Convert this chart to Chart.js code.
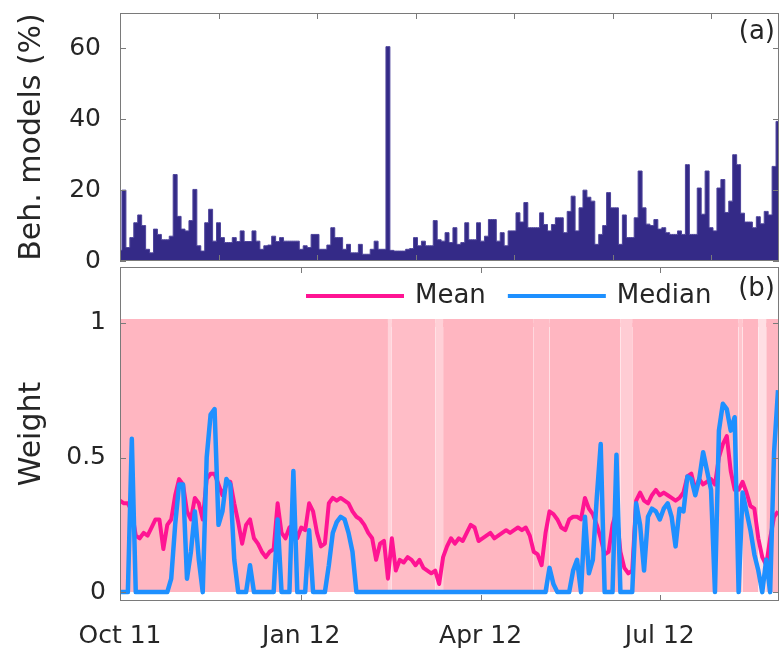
<!DOCTYPE html>
<html>
<head>
<meta charset="utf-8">
<script src="https://cdn.jsdelivr.net/npm/chart.js@4.4.1/dist/chart.umd.min.js"></script>
<style>
  html, body { margin: 0; padding: 0; background: #fff; }
  #wrap { position: relative; width: 781px; height: 651px; overflow: hidden; }
  #wrap canvas { position: absolute; left: 0; }
  #modelsChart { top: 0; }
  #weightChart { top: 262px; }
</style>
</head>
<body>
<div id="wrap">
  <canvas id="modelsChart" width="781" height="280"></canvas>
  <canvas id="weightChart" width="781" height="389"></canvas>
</div>
<script>
// day 0 = 1 Oct 2011, one sample every 2 days
const days = Array.from({ length: 168 }, (_, i) => i * 2);

const monthTicks = [0, 92, 183, 274];
const monthLabels = ['Oct 11', 'Jan 12', 'Apr 12', 'Jul 12'];
const dayTicks = [0, 50, 100, 150, 200, 250, 300];
const modelTicks = [0, 20, 40, 60];
const weightTicks = [0, 0.5, 1];

// (a) share of behavioural models, %
const behModels = [
  3, 20, 3.8, 6.6, 10.8, 13, 10, 3.3, 2.3, 9,
  7.5, 6, 6, 7, 24.4, 12.6, 9, 8.5, 11.4, 20.2,
  4.3, 2.8, 10.8, 14.6, 5.6, 10.8, 6.6, 5.2, 5.2, 6.6,
  5.5, 8.5, 5.5, 5.5, 8.5, 5.6, 3.3, 4.3, 4.5, 7,
  5.5, 6.6, 5.6, 5.6, 5.6, 5.6, 3.3, 4.3, 3.8, 7.5,
  7.5, 3.3, 3.3, 4.5, 9.4, 6.6,
  6.6, 3.3, 4.7, 2.3, 2.3, 4.7, 1.9, 1.9, 3.3, 5.6,
  3.3, 3.3, 60.5, 3, 2.8, 2.8, 2.8, 3.3, 3.5, 6.6,
  4.3, 5.6, 4.3, 4.3, 11.4, 6, 5.6, 8, 5.2, 9.4,
  4.7, 5.2, 10.8, 6, 6, 10.8, 5.6, 7, 11.7, 11.7,
  5.6, 8, 4.3, 8.5, 8.5, 13.6, 11, 16.5, 9.4, 9.4,
  9.4, 13.6, 10.3, 8.5, 10.3, 12.2,
  12.2, 8, 14, 18.3, 8.5, 15, 20, 18, 16.9, 4.7,
  7.5, 10, 19.3, 15, 15, 4.7, 13, 6.6, 6.6, 12.2,
  25.4, 15, 10.4, 10, 11.7, 9, 9.4, 8, 7.5, 7.5,
  8.5, 7.5, 27.2, 7.5, 7.5, 20.6, 13.2, 25.4, 9.4, 8.5,
  20.6, 23, 13.7, 16.9, 30, 27.2, 13.5, 11, 11, 9.4,
  12.5, 10.5, 14, 13, 26.7, 39.4
];

// (b) mean and median model weight
const meanWeight = [
  .34, .33, .33, .30, .21, .20, .22, .21, .24, .27,
  .27, .16, .25, .27, .36, .42, .40, .30, .27, .35,
  .33, .27, .42, .44, .44, .40, .36, .40, .41, .33,
  .26, .18, .25, .27, .20, .18, .15, .13, .15, .16,
  .33, .22, .20, .24, .25, .20, .24, .23, .33, .30,
  .22, .17, .18, .33, .35, .34,
  .35, .34, .33, .30, .28, .27, .25, .22, .20, .12,
  .18, .19, .05, .20, .08, .12, .11, .13, .12, .10,
  .12, .09, .08, .07, .08, .03, .13, .17, .20, .18,
  .20, .19, .22, .25, .24, .19, .20, .21, .22, .20,
  .21, .22, .23, .22, .23, .24, .23, .24, .21, .15,
  .14, .10, .22, .30, .29, .27,
  .24, .23, .27, .28, .28, .27, .35, .31, .29, .25,
  .20, .14, .15, .25, .30, .15, .09, .07, .08, .34,
  .37, .34, .33, .36, .38, .36, .37, .36, .35, .34,
  .35, .37, .43, .44, .38, .42, .40, .41, .42, .40,
  .50, .55, .58, .45, .38, .38, .41, .37, .32, .31,
  .20, .13, .10, .20, .28, .30
];

const medianWeight = [
  0, 0, 0, .57, 0, 0, 0, 0, 0, 0,
  0, 0, 0, .05, .25, .40, .40, .05, .15, .30,
  .12, 0, .50, .66, .68, .25, .30, .42, .40, .12,
  0, 0, 0, .10, 0, 0, 0, 0, 0, 0,
  .27, 0, 0, 0, .45, 0, 0, 0, .23, 0,
  0, 0, 0, .10, .22, .26,
  .28, .27, .22, .15, 0, 0, 0, 0, 0, 0,
  0, 0, 0, 0, 0, 0, 0, 0, 0, 0,
  0, 0, 0, 0, 0, 0, 0, 0, 0, 0,
  0, 0, 0, 0, 0, 0, 0, 0, 0, 0,
  0, 0, 0, 0, 0, 0, 0, 0, 0, 0,
  0, 0, 0, .09, .03, 0,
  0, 0, 0, .08, .12, 0, .28, .07, .12, .35,
  .55, 0, 0, 0, .51, 0, 0, 0, 0, .33,
  .25, .08, .28, .31, .30, .27, .31, .33, .28, .17,
  .31, .30, .43, .42, .36, .42, .52, .45, .38, 0,
  .60, .70, .68, .60, .65, 0, .37, .30, .23, .14,
  .08, 0, .12, 0, .52, .75
];

// individual weights fill [0, 1]; thinner sampling on these day ranges
const weightMax = 1;
const paleFrom = [136, 138, 160, 210, 254, 314, 324];
const paleTo = [138, 160, 164, 218, 260, 316, 328];
const paleDensity = [0.6, 0.9, 0.65, 0.92, 0.7, 0.8, 0.45];

const ink = '#262626';
Chart.defaults.font.family = '"DejaVu Sans", sans-serif';
Chart.defaults.color = ink;

function bandColour(day) {
  let k = 1;
  paleFrom.forEach((f, i) => { if (day >= f && day < paleTo[i]) k = paleDensity[i]; });
  const g = Math.round(182 + 73 * (1 - k));
  const b = Math.round(193 + 62 * (1 - k));
  return `rgb(255,${g},${b})`;
}

// box around the axes with inward ticks, matlab style
const framePlugin = {
  id: 'frame',
  afterDatasetsDraw(chart) {
    const { ctx, chartArea: a, scales } = chart;
    const len = 6;
    ctx.save();
    ctx.strokeStyle = '#7a7a7a';
    ctx.lineWidth = 1;
    ctx.strokeRect(a.left + 0.5, a.top + 0.5, a.right - a.left - 1, a.bottom - a.top - 1);
    ctx.beginPath();
    scales.x.ticks.forEach(t => {
      const px = Math.round(scales.x.getPixelForValue(t.value)) + 0.5;
      ctx.moveTo(px, a.top); ctx.lineTo(px, a.top + len);
      ctx.moveTo(px, a.bottom); ctx.lineTo(px, a.bottom - len);
    });
    scales.y.ticks.forEach(t => {
      const py = Math.round(scales.y.getPixelForValue(t.value)) + 0.5;
      ctx.moveTo(a.left, py); ctx.lineTo(a.left + len, py);
      ctx.moveTo(a.right, py); ctx.lineTo(a.right - len, py);
    });
    ctx.stroke();
    ctx.restore();
  }
};

// legend + panel letter drawn inside the plot box
const keyPlugin = {
  id: 'key',
  afterDraw(chart, args, opts) {
    const { ctx, chartArea: a } = chart;
    ctx.save();
    ctx.font = '26px "DejaVu Sans"';
    ctx.textBaseline = 'middle';
    ctx.fillStyle = ink;
    let x = a.left + opts.x;
    const y = a.top + opts.y;
    chart.data.datasets.filter(ds => opts.show.includes(ds.label))
      .sort((p, q) => opts.show.indexOf(p.label) - opts.show.indexOf(q.label))
      .forEach(ds => {
        ctx.strokeStyle = ds.borderColor;
        ctx.lineWidth = 4;
        ctx.beginPath();
        ctx.moveTo(x, y); ctx.lineTo(x + 98, y);
        ctx.stroke();
        x += 98 + 11;
        ctx.fillText(ds.label, x, y);
        x += ctx.measureText(ds.label).width + 22;
      });
    ctx.textAlign = 'right';
    ctx.fillText(opts.tag, a.right - 4, a.top + opts.tagY);
    ctx.restore();
  }
};

const dayAxis = (ticks, height, labels) => ({
  type: 'linear',
  min: 0,
  max: 334.5,
  afterFit: s => { s.height = height; },
  afterBuildTicks: s => { s.ticks = ticks.map(v => ({ value: v })); },
  grid: { display: false, drawTicks: false },
  border: { display: false },
  ticks: {
    display: !!labels,
    maxRotation: 0,
    autoSkip: false,
    padding: 20,
    font: { size: 25 },
    callback: v => labels ? labels[ticks.indexOf(v)] : ''
  }
});

const valueAxis = (min, max, ticks, pad, title) => ({
  min,
  max,
  afterFit: s => { s.width = 120; s.paddingTop = 0; s.paddingBottom = 0; },
  afterBuildTicks: s => { s.ticks = ticks.map(v => ({ value: v })); },
  grid: { display: false, drawTicks: false },
  border: { display: false },
  ticks: { padding: pad, font: { size: 25 }, callback: v => String(v) },
  title: { display: true, text: title, font: { size: 30 }, padding: { top: 14, bottom: 0 } }
});

new Chart(document.getElementById('modelsChart'), {
  type: 'line',
  data: {
    datasets: [{
      label: 'Beh. models',
      data: days.map((d, i) => ({ x: d, y: behModels[i] })),
      stepped: 'middle',
      fill: 'origin',
      backgroundColor: '#342a87',
      borderColor: '#4d439b',
      borderWidth: 1,
      pointRadius: 0,
      clip: 0
    }]
  },
  options: {
    responsive: false,
    animation: false,
    layout: { padding: { top: 13, right: 2, left: 0, bottom: 0 } },
    plugins: {
      legend: { display: false },
      tooltip: { enabled: false },
      key: { x: 0, y: 0, show: [], tag: '(a)', tagY: 19 }
    },
    scales: {
      x: dayAxis(dayTicks, 19, null),
      y: valueAxis(0, 70, modelTicks, 19, 'Beh. models (%)')
    }
  },
  plugins: [framePlugin, keyPlugin]
});

new Chart(document.getElementById('weightChart'), {
  type: 'line',
  data: {
    datasets: [
      {
        label: 'Median',
        data: days.map((d, i) => ({ x: d, y: medianWeight[i] })),
        borderColor: '#1e90ff',
        borderWidth: 4.5,
        pointRadius: 0,
        borderJoinStyle: 'round',
        order: 1,
        clip: 0
      },
      {
        label: 'Mean',
        data: days.map((d, i) => ({ x: d, y: meanWeight[i] })),
        borderColor: '#ff1493',
        borderWidth: 4,
        pointRadius: 0,
        borderJoinStyle: 'round',
        order: 2,
        clip: 0
      },
      {
        label: 'Weights',
        data: days.map(d => ({ x: d, y: weightMax })),
        fill: 'origin',
        backgroundColor: '#ffb6c1',
        borderColor: '#ffb6c1',
        borderWidth: 8,
        pointRadius: 0,
        order: 3,
        clip: 0,
        segment: {
          backgroundColor: c => bandColour(c.p0.parsed.x),
          borderColor: c => bandColour(c.p0.parsed.x)
        }
      }
    ]
  },
  options: {
    responsive: false,
    animation: false,
    layout: { padding: { top: 5, right: 2, left: 0, bottom: 0 } },
    plugins: {
      legend: { display: false },
      tooltip: { enabled: false },
      key: { x: 186, y: 29, show: ['Mean', 'Median'], tag: '(b)', tagY: 22 }
    },
    scales: {
      x: dayAxis(monthTicks, 50, monthLabels),
      y: valueAxis(-0.033, 1.208, weightTicks, 14, 'Weight')
    }
  },
  plugins: [framePlugin, keyPlugin]
});
</script>
</body>
</html>
